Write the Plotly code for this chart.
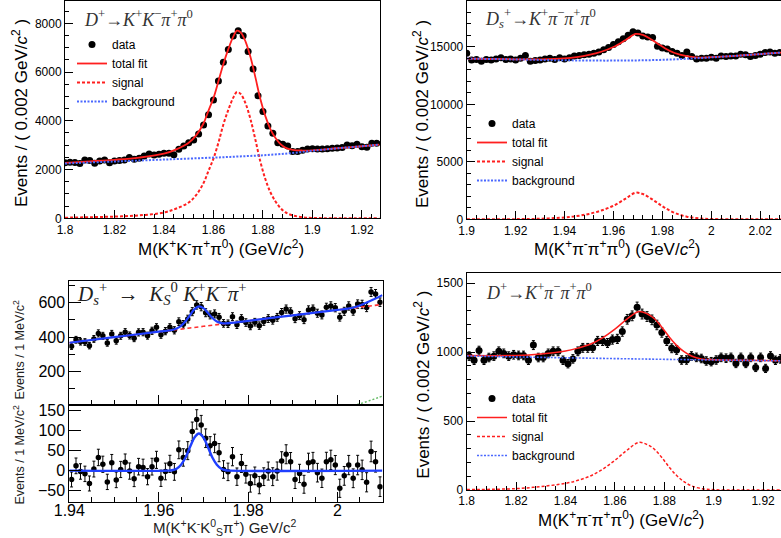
import numpy as np
import plotly.graph_objects as go

W, H = 781, 538

# ---------------- Panel 1: D+ -> K+ K- pi+ pi0 ----------------
p1_x = [round(1.800 + 0.002 * i, 3) for i in range(64)]
p1_y = [2280, 2300, 2290, 2250, 2390, 2370, 2260, 2350, 2390, 2280,
        2350, 2370, 2390, 2490, 2420, 2460, 2560, 2640, 2600, 2630,
        2670, 2670, 2610, 2830, 2970, 3100, 3210, 3460, 3830, 4250,
        4850, 5630, 6400, 6930, 7480, 7690, 7490, 6840, 6130, 5030,
        4380, 3790, 3490, 3100, 3040, 2970, 2740, 2740, 2790, 2840,
        2850, 2840, 2840, 2850, 2870, 2880, 2900, 3010, 2980, 3040,
        2940, 2910, 3080, 3080]
p1_fit_x = [1.800, 1.810, 1.820, 1.830, 1.840, 1.845, 1.850, 1.853, 1.856, 1.858,
            1.860, 1.862, 1.864, 1.866, 1.868, 1.8695, 1.871, 1.873, 1.875, 1.877,
            1.879, 1.881, 1.883, 1.885, 1.887, 1.889, 1.892, 1.896, 1.900, 1.910,
            1.920, 1.927]
p1_total = [2275, 2335, 2400, 2490, 2650, 2830, 3100, 3400, 3900, 4420,
            4930, 5620, 6330, 6940, 7450, 7700, 7630, 7240, 6600, 5760,
            4870, 4180, 3660, 3300, 3050, 2900, 2810, 2780, 2785, 2873,
            2955, 3020]
p1_sig_x = [1.800, 1.810, 1.820, 1.830, 1.840, 1.845, 1.850, 1.853, 1.856, 1.858,
            1.860, 1.862, 1.864, 1.866, 1.868, 1.8695, 1.871, 1.873, 1.875, 1.877,
            1.879, 1.881, 1.883, 1.885, 1.887, 1.889, 1.892, 1.896, 1.900, 1.910,
            1.927]
p1_sig = [25, 45, 70, 120, 240, 400, 650, 950, 1450, 1950,
          2450, 3100, 3850, 4450, 4950, 5180, 5100, 4700, 4050, 3200,
          2300, 1600, 1070, 700, 430, 250, 120, 45, 15, 3,
          0]
p1_bkg_x = [1.800, 1.820, 1.840, 1.860, 1.870, 1.880, 1.890, 1.900, 1.910, 1.920, 1.927]
p1_bkg = [2250, 2330, 2410, 2490, 2535, 2585, 2660, 2770, 2870, 2955, 3020]

# ---------------- Panel 2: Ds+ -> K+ pi- pi+ pi0 ----------------
p2_x = [round(1.900 + 0.002 * i, 3) for i in range(65)]
p2_y = [14450, 13850, 13900, 13750, 13900, 13850, 13950, 14050, 13900, 13950,
        13850, 14000, 14250, 13750, 13800, 13850, 13950, 14000, 13900, 14050,
        13950, 14050, 14200, 14250, 14300, 14350, 14450, 14550, 14750, 14950,
        15200, 15450, 15700, 16000, 16300, 16200, 15950, 15850, 15800, 15050,
        14900, 14800, 14600, 14450, 14250, 14550, 14150, 13950, 14000, 14000,
        14100, 14000, 14200, 14150, 14200, 14200, 14350, 14300, 14150, 14250,
        14350, 14500, 14550, 14450, 14500]
p2_fit_x = [1.900, 1.920, 1.930, 1.940, 1.945, 1.950, 1.955, 1.960, 1.965, 1.969,
            1.972, 1.975, 1.978, 1.981, 1.985, 1.990, 1.995, 2.000, 2.010, 2.020, 2.0285]
p2_total = [13980, 13915, 13915, 13990, 14100, 14290, 14570, 14980, 15600, 16120,
            16040, 15700, 15290, 14880, 14460, 14190, 14060, 14105, 14220, 14370, 14500]
p2_sig = [0, 15, 50, 160, 280, 470, 760, 1180, 1800, 2310,
          2200, 1850, 1420, 1000, 560, 230, 80, 25, 3, 0, 0]
p2_bkg_x = [1.900, 1.920, 1.940, 1.960, 1.980, 2.000, 2.020, 2.0285]
p2_bkg = [13980, 13900, 13830, 13800, 13870, 14080, 14370, 14500]

# ---------------- Panel 3: Ds+ -> KS0 K+ K- pi+ ----------------
p3_x = [round(1.9405 + 0.001 * i, 4) for i in range(70)]
p3_y = [348, 385, 374, 372, 351, 390, 422, 408, 367, 419,
        379, 408, 429, 410, 394, 428, 429, 409, 437, 457,
        414, 435, 457, 440, 490, 475, 505, 548, 587, 577,
        542, 529, 535, 515, 480, 478, 519, 472, 508, 485,
        465, 487, 467, 491, 508, 498, 515, 543, 563, 547,
        507, 525, 501, 558, 563, 539, 529, 573, 581, 571,
        516, 550, 581, 551, 592, 590, 572, 662, 651, 603]
p3_res = [-22, 12, -2, -8, -32, 4, 33, 16, -28, 20,
          -23, 3, 21, -1, -20, 10, 8, -15, 10, 27,
          -19, -2, 17, -3, 52, 33, 50, 98, 128, 114,
          81, 62, 68, 45, 3, -3, 35, -15, 18, -9,
          -32, -13, -36, -15, -1, -15, -1, 24, 41, 22,
          -22, -7, -34, 20, 22, -5, -19, 22, 27, 14,
          -44, -13, 14, -19, 14, 2, -29, 48, 22, -40]
p3_fit_x = [1.940, 1.950, 1.960, 1.963, 1.964, 1.965, 1.966, 1.967, 1.968, 1.969,
            1.970, 1.971, 1.972, 1.973, 1.974, 1.975, 1.980, 1.990, 2.000, 2.002,
            2.004, 2.006, 2.008, 2.010]
p3_total = [368, 400, 432, 442, 450, 466, 492, 528, 563, 579,
            569, 541, 511, 491, 482, 480, 495, 527, 558, 564,
            575, 595, 618, 644]
p3_bkg_x = [1.940, 1.950, 1.960, 1.970, 1.980, 1.990, 2.000, 2.010]
p3_bkg = [368, 400, 431, 463, 495, 527, 558, 590]
p3_peak_x = [2.0035, 2.005, 2.006, 2.007, 2.008, 2.009, 2.010]
p3_peak = [7, 14, 22, 31, 40, 49, 58]
p3_rfit_x = [1.940, 1.962, 1.963, 1.964, 1.965, 1.966, 1.967, 1.968, 1.969, 1.970,
             1.971, 1.972, 1.973, 1.974, 1.975, 1.976, 2.010]
p3_rfit = [0, 0, 1, 5, 15, 33, 59, 83, 93, 83,
           59, 33, 15, 5, 1, 0, 0]

# ---------------- Panel 4: D+ -> K+ pi- pi+ pi0 ----------------
p4_x = [round(1.801 + 0.002 * i, 3) for i in range(64)]
p4_y = [970, 940, 1010, 940, 960, 970, 1005, 990, 970, 980,
        975, 975, 940, 1050, 960, 960, 990, 1005, 1005, 940,
        915, 950, 1005, 1030, 1030, 1030, 1080, 1080, 1065, 1090,
        1095, 1148, 1237, 1262, 1325, 1275, 1257, 1233, 1196, 1141,
        1080, 1027, 1015, 942, 942, 971, 961, 953, 935, 930,
        942, 961, 955, 961, 917, 961, 917, 961, 888, 961,
        881, 971, 940, 950]
p4_fit_x = [1.800, 1.820, 1.830, 1.840, 1.845, 1.850, 1.855, 1.860, 1.865, 1.8697,
            1.873, 1.876, 1.879, 1.882, 1.885, 1.888, 1.891, 1.895, 1.900, 1.910, 1.927]
p4_total = [974, 975, 986, 1007, 1028, 1056, 1103, 1166, 1240, 1293,
            1277, 1241, 1180, 1109, 1048, 1002, 971, 950, 944, 940, 936]
p4_sig = [3, 10, 25, 48, 70, 101, 150, 215, 290, 345,
          330, 295, 235, 165, 105, 60, 30, 10, 2, 0, 0]
p4_bkg_x = [1.800, 1.850, 1.900, 1.927]
p4_bkg = [971, 955, 942, 936]

# ---------------- helpers ----------------
def px(x):
    return x / W

def py(y):
    return 1 - y / H

SANS = "Liberation Sans, Arial, sans-serif"
SERIF = "Liberation Serif, Times New Roman, serif"
RED = "#ff1f1f"
BLUE_BKG = "#4a68ff"

fig = go.Figure()

def data_trace(x, y, xa, ya, legend, size=6.5, err=None, showlegend=True):
    kw = {}
    if err is not None:
        kw["error_y"] = dict(type="data", array=err, color="black", thickness=1, width=1.5)
    return go.Scatter(x=x, y=y, mode="markers", name="data",
                      marker=dict(color="black", size=size, symbol="circle"),
                      xaxis=xa, yaxis=ya, legend=legend, showlegend=showlegend, **kw)

def line_trace(x, y, xa, ya, name, color, width, dash, legend, showlegend=True):
    return go.Scatter(x=x, y=y, mode="lines", name=name, line_shape="spline",
                      line=dict(color=color, width=width, dash=dash),
                      xaxis=xa, yaxis=ya, legend=legend, showlegend=showlegend)

# Panel 1
fig.add_trace(data_trace(p1_x, p1_y, "x", "y", "legend", size=7))
fig.add_trace(line_trace(p1_fit_x, p1_total, "x", "y", "total fit", RED, 1.8, "solid", "legend"))
fig.add_trace(line_trace(p1_sig_x, p1_sig, "x", "y", "signal", RED, 2, "3px,2px", "legend"))
fig.add_trace(line_trace(p1_bkg_x, p1_bkg, "x", "y", "background", BLUE_BKG, 2, "2px,1.5px", "legend"))

# Panel 2
fig.add_trace(data_trace(p2_x, p2_y, "x2", "y2", "legend2", size=7))
fig.add_trace(line_trace(p2_fit_x, p2_total, "x2", "y2", "total fit", RED, 1.8, "solid", "legend2"))
fig.add_trace(line_trace(p2_fit_x, p2_sig, "x2", "y2", "signal", RED, 2, "3px,2px", "legend2"))
fig.add_trace(line_trace(p2_bkg_x, p2_bkg, "x2", "y2", "background", BLUE_BKG, 2, "2px,1.5px", "legend2"))

# Panel 3 (upper + residual)
p3_err = np.sqrt(np.array(p3_y, dtype=float))
fig.add_trace(data_trace(p3_x, p3_y, "x3", "y3", "legend", size=5.5, err=p3_err, showlegend=False))
fig.add_trace(line_trace(p3_bkg_x, p3_bkg, "x3", "y3", "bkg", "#ff3030", 1.6, "4px,3px", "legend", False))
fig.add_trace(line_trace(p3_peak_x, p3_peak, "x3", "y3", "peaking", "#66bb66", 1.4, "2px,2px", "legend", False))
fig.add_trace(line_trace(p3_fit_x, p3_total, "x3", "y3", "fit", "#1f3fff", 2.2, "solid", "legend", False))
fig.add_trace(data_trace(p3_x, p3_res, "x4", "y4", "legend", size=5.5, err=p3_err, showlegend=False))
fig.add_trace(line_trace(p3_rfit_x, p3_rfit, "x4", "y4", "fit", "#1f3fff", 2.4, "solid", "legend", False))

# Panel 4
p4_err = np.sqrt(np.array(p4_y, dtype=float))
fig.add_trace(data_trace(p4_x, p4_y, "x5", "y5", "legend3", size=7, err=p4_err))
fig.add_trace(line_trace(p4_fit_x, p4_total, "x5", "y5", "total fit", RED, 1.5, "solid", "legend3"))
fig.add_trace(line_trace(p4_fit_x, p4_sig, "x5", "y5", "signal", RED, 1.5, "3px,2px", "legend3"))
fig.add_trace(line_trace(p4_bkg_x, p4_bkg, "x5", "y5", "background", BLUE_BKG, 1.6, "2px,1.5px", "legend3"))

def xaxis(domain, rng, dtick, minor, anchor, mirror=True, labels=True, fs=12, tlen=8, standoff=0):
    return dict(domain=domain, range=rng, dtick=dtick, tick0=0, anchor=anchor, automargin=False,
                showline=True, linecolor="black", linewidth=1, mirror=mirror,
                ticks="inside", ticklen=tlen, tickcolor="black", showgrid=False,
                zeroline=False, showticklabels=labels, ticklabelstandoff=standoff,
                tickfont=dict(family=SANS, size=fs, color="black"),
                minor=dict(ticks="inside", ticklen=tlen // 2, dtick=minor, tickcolor="black", showgrid=False))

def yaxis(domain, rng, dtick, minor, anchor, mirror=True, fs=12, tlen=8, standoff=0):
    return dict(domain=domain, range=rng, dtick=dtick, tick0=0, anchor=anchor, automargin=False,
                showline=True, linecolor="black", linewidth=1, mirror=mirror,
                ticks="inside", ticklen=tlen, tickcolor="black", showgrid=False,
                zeroline=False, tickformat="d", ticklabelstandoff=standoff,
                tickfont=dict(family=SANS, size=fs, color="black"),
                minor=dict(ticks="inside", ticklen=tlen // 2, dtick=minor, tickcolor="black", showgrid=False))

legend_common = dict(bgcolor="rgba(0,0,0,0)", borderwidth=0, xanchor="left", yanchor="top",
                     font=dict(family=SANS, size=12, color="black"), traceorder="normal",
                     itemwidth=30)

fig.update_layout(
    width=W, height=H, margin=dict(l=0, r=0, t=0, b=0, autoexpand=False),
    paper_bgcolor="white", plot_bgcolor="white", showlegend=True,
    xaxis=xaxis([px(65), px(380)], [1.8, 1.9273], 0.02, 0.004, "y"),
    yaxis=yaxis([py(218.3), py(1)], [0, 8915], 2000, 500, "x"),
    xaxis2=xaxis([px(466.7), 1.0], [1.9, 2.0285], 0.02, 0.004, "y2"),
    yaxis2=yaxis([py(219.3), py(1)], [0, 18984], 5000, 1000, "x2", mirror=False),
    xaxis3=xaxis([px(69.3), px(382.7)], [1.94, 2.0101], 0.02, 0.005, "y3", labels=False, tlen=10),
    yaxis3=yaxis([py(405), py(280.7)], [7, 727.5], 200, 100, "x3", fs=16, tlen=12),
    xaxis4=xaxis([px(69.3), px(382.7)], [1.94, 2.0101], 0.02, 0.005, "y4", fs=16, tlen=10, standoff=-7),
    yaxis4=yaxis([py(502.3), py(405)], [-79, 164], 50, 50, "x4", fs=16, tlen=12),
    xaxis5=xaxis([px(466.7), 1.0], [1.8, 1.92725], 0.02, 0.004, "y5"),
    yaxis5=yaxis([py(490), py(272.7)], [0, 1574.6], 500, 100, "x5", mirror=False),
    legend=dict(x=px(72), y=py(30), **legend_common),
    legend2=dict(x=px(472), y=py(109), **legend_common),
    legend3=dict(x=px(472), y=py(384), **legend_common),
)

annots = [
    # physics titles
    dict(x=px(82), y=py(19), text="<i>D</i><sup>+</sup>→<i>K</i><sup>+</sup><i>K</i><sup>−</sup><i>π</i><sup>+</sup><i>π</i><sup>0</sup>",
         xanchor="left", yanchor="middle", font=dict(family=SERIF, size=18, color="#333333")),
    dict(x=px(483), y=py(19), text="<i>D</i><sub><i>s</i></sub><sup>+</sup>→<i>K</i><sup>+</sup><i>π</i><sup>−</sup><i>π</i><sup>+</sup><i>π</i><sup>0</sup>",
         xanchor="left", yanchor="middle", font=dict(family=SERIF, size=18, color="#333333")),
    dict(x=px(75), y=py(293), text="<i>D</i><sub><i>s</i></sub><sup>+</sup>  →  <i>K</i><sub><i>S</i></sub><sup>0</sup> <i>K</i><sup>+</sup><i>K</i><sup>−</sup><i>π</i><sup>+</sup>",
         xanchor="left", yanchor="middle", font=dict(family=SERIF, size=21, color="#222222")),
    dict(x=px(484), y=py(291), text="<i>D</i><sup>+</sup>→<i>K</i><sup>+</sup><i>π</i><sup>−</sup><i>π</i><sup>+</sup><i>π</i><sup>0</sup>",
         xanchor="left", yanchor="middle", font=dict(family=SERIF, size=18, color="#333333")),
    # x titles
    dict(x=px(221), y=py(248), text="M(K<sup>+</sup>K<sup>-</sup>π<sup>+</sup>π<sup>0</sup>) (GeV/<i>c</i><sup>2</sup>)",
         xanchor="center", yanchor="middle", font=dict(family=SANS, size=17, color="black")),
    dict(x=px(617), y=py(248), text="M(K<sup>+</sup>π<sup>-</sup>π<sup>+</sup>π<sup>0</sup>) (GeV/<i>c</i><sup>2</sup>)",
         xanchor="center", yanchor="middle", font=dict(family=SANS, size=17, color="black")),
    dict(x=px(224), y=py(527), text="M(K<sup>+</sup>K<sup>-</sup>K<sup>0</sup><sub>S</sub>π<sup>+</sup>) GeV/c<sup>2</sup>",
         xanchor="center", yanchor="middle", font=dict(family=SANS, size=15, color="#222222")),
    dict(x=px(621), y=py(519), text="M(K<sup>+</sup>π<sup>-</sup>π<sup>+</sup>π<sup>0</sup>) (GeV/<i>c</i><sup>2</sup>)",
         xanchor="center", yanchor="middle", font=dict(family=SANS, size=17, color="black")),
    # y titles
    dict(x=px(20), y=py(113), text="Events / ( 0.002 GeV/<i>c</i><sup>2</sup> )", textangle=-90,
         xanchor="center", yanchor="middle", font=dict(family=SANS, size=17, color="black")),
    dict(x=px(421), y=py(114), text="Events / ( 0.002 GeV/<i>c</i><sup>2</sup> )", textangle=-90,
         xanchor="center", yanchor="middle", font=dict(family=SANS, size=17, color="black")),
    dict(x=px(421.7), y=py(385), text="Events / ( 0.002 GeV/<i>c</i><sup>2</sup> )", textangle=-90,
         xanchor="center", yanchor="middle", font=dict(family=SANS, size=17, color="black")),
    dict(x=px(18.5), y=py(350), text="Events / 1 MeV/c<sup>2</sup>", textangle=-90,
         xanchor="center", yanchor="middle", font=dict(family=SANS, size=12.5, color="#222222")),
    dict(x=px(18.5), y=py(455), text="Events / 1 MeV/c<sup>2</sup>", textangle=-90,
         xanchor="center", yanchor="middle", font=dict(family=SANS, size=12.5, color="#222222")),
]
for a in annots:
    a.update(xref="paper", yref="paper", showarrow=False)
fig.update_layout(annotations=annots)

fig.write_html("out.html", config={"displayModeBar": False},
               post_script="document.body.style.margin='0';document.body.style.overflow='hidden';")
